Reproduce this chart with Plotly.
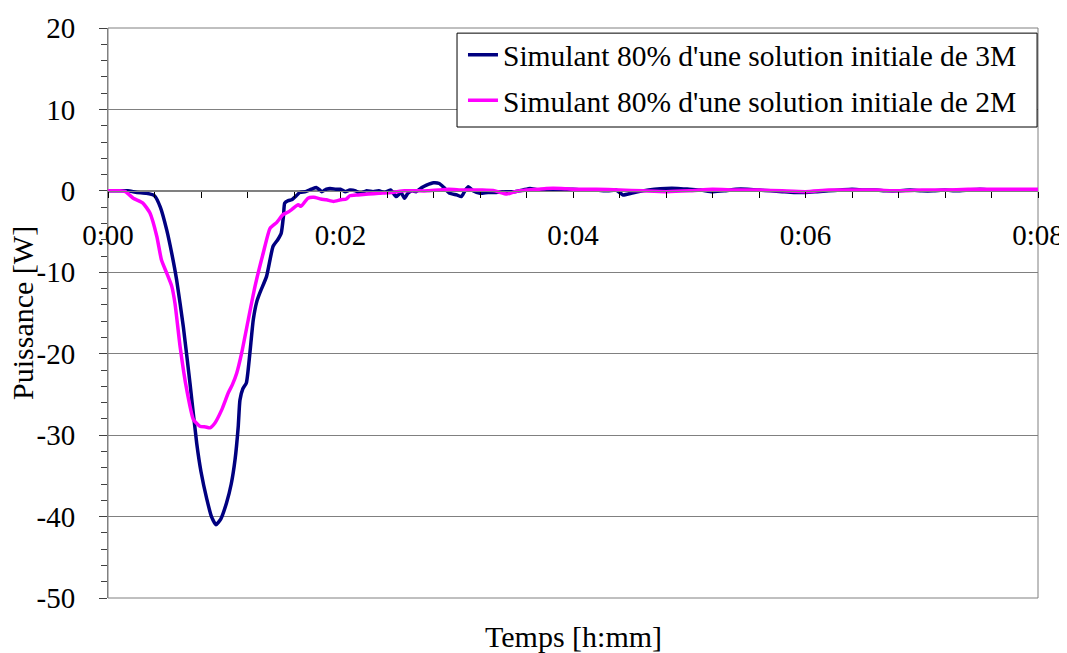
import plotly.graph_objects as go

# time in minutes, power in W
t3 = [0, 0.1, 0.17, 0.25, 0.33, 0.40, 0.45, 0.505, 0.55, 0.59,
      0.648, 0.705, 0.763, 0.80, 0.849, 0.89, 0.929, 0.97, 1.02, 1.06,
      1.093, 1.12, 1.135, 1.16, 1.19, 1.22, 1.25, 1.28, 1.307, 1.364,
      1.42, 1.46, 1.49, 1.51, 1.52, 1.55, 1.58, 1.62, 1.65, 1.70,
      1.75, 1.795, 1.84, 1.88, 1.91, 1.96, 2.0, 2.04, 2.08, 2.13,
      2.17, 2.22, 2.28, 2.33, 2.38, 2.43, 2.48, 2.52, 2.55, 2.58,
      2.62, 2.65, 2.70, 2.74, 2.80, 2.85, 2.89, 2.94, 3.0, 3.04,
      3.07, 3.1, 3.14, 3.2, 3.27, 3.34, 3.42, 3.5, 3.57, 3.63,
      3.7, 3.8, 3.9, 4.0, 4.1, 4.2, 4.3, 4.37, 4.43, 4.5,
      4.6, 4.7, 4.8, 4.9, 5.0, 5.1, 5.2, 5.3, 5.4, 5.5,
      5.6, 5.7, 5.8, 5.9, 6.0, 6.1, 6.2, 6.3, 6.4, 6.5,
      6.6, 6.7, 6.8, 6.9, 7.0, 7.1, 7.2, 7.3, 7.4, 7.5,
      7.6, 7.7, 7.8, 7.9, 8.0]
p3 = [0, 0, 0, -0.2, -0.3, -0.6, -2.0, -4.8, -7.8, -10.9,
      -16.7, -23.6, -31.0, -34.5, -37.8, -40.0, -41.0, -40.3, -38.3, -36.0,
      -33.0, -29.0, -25.7, -24.3, -23.6, -20.0, -15.8, -13.6, -12.5, -10.5,
      -6.8, -6.0, -5.2, -3.0, -1.5, -1.2, -1.1, -0.6, -0.2, -0.1,
      0.2, 0.4, -0.1, 0.2, 0.3, 0.2, 0.2, -0.1, 0.1, 0.0,
      -0.3, 0.0, -0.1, 0.0, -0.2, 0.1, -0.7, -0.2, -0.9, -0.3,
      0.0, -0.1, 0.4, 0.7, 1.0, 0.9, 0.4, -0.3, -0.5, -0.7,
      0.0, 0.5, 0.0, -0.3, -0.2, -0.2, -0.1, -0.1, 0.1, 0.3,
      0.1, 0.1, 0.2, 0.2, 0.1, 0.1, 0.0, 0.1, -0.5, -0.3,
      0.0, 0.2, 0.3, 0.3, 0.2, 0.1, -0.1, 0.0, 0.2, 0.2,
      0.1, 0.0, -0.1, -0.2, -0.2, -0.1, 0.0, 0.1, 0.2, 0.1,
      0.1, 0.0, 0.0, 0.1, 0.0, 0.0, 0.1, 0.0, 0.1, 0.2,
      0.1, 0.1, 0.1, 0.1, 0.1]

t2 = [0, 0.1, 0.15, 0.217, 0.30, 0.36, 0.42, 0.46, 0.505, 0.548,
      0.576, 0.62, 0.677, 0.735, 0.79, 0.84, 0.877, 0.92, 0.978, 1.035,
      1.07, 1.107, 1.15, 1.207, 1.265, 1.336, 1.394, 1.45, 1.507, 1.55,
      1.58, 1.636, 1.66, 1.72, 1.77, 1.83, 1.88, 1.94, 2.0, 2.05,
      2.08, 2.15, 2.24, 2.33, 2.44, 2.55, 2.65, 2.75, 2.85, 2.93,
      3.05, 3.15, 3.22, 3.33, 3.43, 3.5, 3.6, 3.7, 3.77, 3.9,
      4.0, 4.2, 4.4, 4.6, 4.8, 5.0, 5.2, 5.4, 5.6, 5.8,
      6.0, 6.2, 6.4, 6.6, 6.8, 7.0, 7.2, 7.4, 7.6, 7.8,
      8.0]
p2 = [0, 0, -0.1, -0.9, -1.5, -2.7, -5.6, -8.5, -10.1, -11.7,
      -13.8, -19.1, -24.4, -28.1, -28.9, -29.0, -29.1, -28.5, -26.9, -24.8,
      -23.8, -22.4, -19.9, -15.8, -11.7, -7.6, -4.6, -3.9, -2.9, -2.6,
      -2.3, -1.7, -1.9, -0.9, -0.8, -1.0, -1.1, -1.3, -1.1, -1.0,
      -0.6, -0.5, -0.4, -0.3, -0.2, 0.0, 0.0, 0.0, 0.1, 0.2,
      0.1, 0.1, 0.1, 0.0, -0.4, -0.1, 0.1, 0.2, 0.3, 0.3,
      0.2, 0.2, 0.1, 0.0, -0.1, 0.0, 0.2, 0.1, 0.1, 0.0,
      -0.1, 0.1, 0.1, 0.1, 0.0, 0.1, 0.1, 0.2, 0.2, 0.2,
      0.2]

x_ticks = [0, 2, 4, 6, 8]
x_labels = ["0:00", "0:02", "0:04", "0:06", "0:08"]
y_ticks = [20, 10, 0, -10, -20, -30, -40, -50]
y_labels = ["20", "10", "0", "-10", "-20", "-30", "-40", "-50"]

font = "Liberation Serif"
tick_font = dict(family=font, size=29, color="black")

fig = go.Figure()

fig.add_trace(go.Scatter(
    name="Simulant 80% d'une solution initiale de 3M",
    x=t3, y=p3, mode="lines",
    line=dict(color="#000080", width=3.5, shape="spline", smoothing=0.5),
    legendgroup="a"))

fig.add_trace(go.Scatter(
    name="Simulant 80% d'une solution initiale de 2M",
    x=t2, y=p2, mode="lines",
    line=dict(color="#FF00FF", width=3.5, shape="spline", smoothing=0.5),
    legendgroup="b"))

# frame around plot area
fig.add_shape(type="rect", xref="paper", yref="paper", x0=0, y0=0, x1=1, y1=1,
              line=dict(color="#808080", width=1), layer="below")
# legend box
fig.add_shape(type="rect", xref="paper", yref="paper", x0=0.3753, y0=0.8263, x1=0.999, y1=0.991,
              line=dict(color="black", width=1), fillcolor="white", layer="above")

# axis titles
fig.add_annotation(text="Temps [h:mm]", xref="paper", yref="paper",
                   x=0.5, y=-0.068, showarrow=False, yanchor="middle",
                   font=dict(size=30, family=font, color="black"))
fig.add_annotation(text="Puissance [W]", xref="paper", yref="paper",
                   x=-0.0925, y=0.5, showarrow=False, textangle=-90,
                   xanchor="center", yanchor="middle",
                   font=dict(size=30, family=font, color="black"))

# page body has an 8px margin, so the figure is 8px smaller and shifted
fig.update_layout(
    width=1059, height=645,
    margin=dict(l=100, r=29, t=20, b=55, autoexpand=False),
    paper_bgcolor="white", plot_bgcolor="white",
    font=dict(family=font, size=29, color="black"),
    showlegend=True,
    legend=dict(x=0.3817, y=0.998, xanchor="left", yanchor="top",
                borderwidth=0, bgcolor="rgba(0,0,0,0)",
                font=dict(family=font, size=29.5), tracegroupgap=4, traceorder="grouped"),
    xaxis=dict(range=[0, 8], tickvals=x_ticks, ticktext=x_labels, tickfont=tick_font,
               anchor="free", position=50 / 70, automargin=False,
               showline=True, linecolor="#808080", linewidth=1,
               ticks="outside", ticklen=6, tickcolor="black",
               minor=dict(dtick=0.4, tick0=0, ticks="outside", ticklen=6, tickcolor="black"),
               showgrid=False, zeroline=False, ticklabelstandoff=12),
    yaxis=dict(range=[-50, 20], tickvals=y_ticks, ticktext=y_labels, tickfont=tick_font,
               automargin=False,
               showline=True, linecolor="#808080", linewidth=1,
               ticks="outside", ticklen=8, tickcolor="#404040",
               minor=dict(dtick=2, ticks="outside", ticklen=6, tickcolor="#404040"),
               showgrid=True, gridcolor="#808080", gridwidth=1, zeroline=False,
               ticklabelstandoff=18),
)

fig.write_html("out.html")
